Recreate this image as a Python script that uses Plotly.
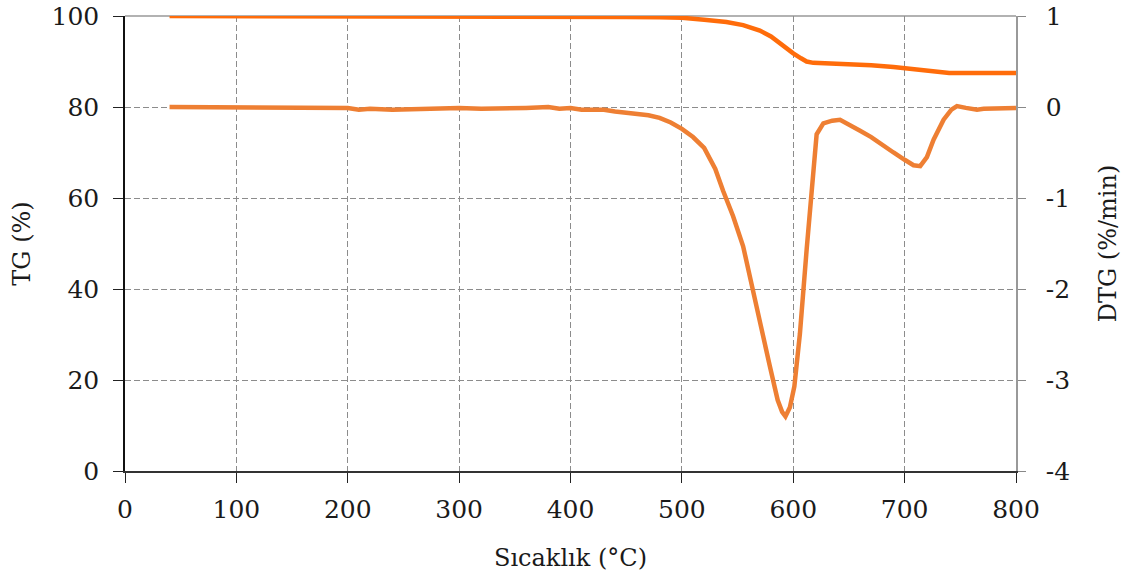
import plotly.graph_objects as go

# TG curve (left axis, %)
tg_temp = [40, 100, 200, 300, 400, 450, 480, 500, 520, 540, 555, 570, 580, 590, 600,
           607, 612, 618, 630, 650, 670, 690, 700, 710, 720, 730, 740, 760, 800]
tg_val = [100, 100, 100, 100, 99.9, 99.8, 99.7, 99.6, 99.2, 98.7, 98.0, 96.8, 95.5, 93.6, 91.8,
          90.7, 90.0, 89.7, 89.6, 89.5, 89.2, 88.8, 88.5, 88.2, 87.9, 87.6, 87.5, 87.5, 87.5]

# DTG curve (right axis, %/min)
dtg_temp = [40, 60, 80, 100, 120, 130, 140, 160, 180, 200, 210, 220, 240, 260, 280, 300,
            320, 340, 360, 380, 390, 400, 410, 420, 430, 440, 450, 460, 470, 480, 490, 500,
            510, 520, 530, 537, 546, 555, 563, 570, 579, 586, 590, 593, 597, 601, 606, 612,
            618, 621, 627, 635, 642, 650, 660, 670, 680, 690, 700, 708, 714, 720, 726, 735,
            742, 747, 755, 765, 771, 780, 790, 800]
dtg_val = [0.0, 0.0, 0.0, 0.0, 0.0, -0.01, 0.0, -0.01, 0.0, -0.01, -0.03, -0.02, -0.03, -0.02,
           -0.01, -0.01, -0.02, -0.02, -0.01, 0.0, -0.02, -0.01, -0.03, -0.03, -0.03, -0.05,
           -0.06, -0.08, -0.09, -0.12, -0.17, -0.24, -0.33, -0.45, -0.68, -0.92, -1.20, -1.53,
           -1.97, -2.41, -2.85, -3.22, -3.35, -3.40, -3.30, -3.07, -2.49, -1.57, -0.66, -0.30,
           -0.18, -0.15, -0.14, -0.19, -0.26, -0.33, -0.42, -0.50, -0.58, -0.64, -0.65, -0.55,
           -0.36, -0.14, -0.03, 0.01, -0.01, -0.03, -0.02, -0.02, -0.01, -0.01]

x_ticks = [0, 100, 200, 300, 400, 500, 600, 700, 800]
tg_ticks = [0, 20, 40, 60, 80, 100]
dtg_ticks = [-4, -3, -2, -1, 0, 1]
dtg_ticktext = ["-4", "-3", "-2", "-1", "0", "1"]

FONT = "DejaVu Serif"
GRID = "#8c8c8c"
TICKFONT = dict(family=FONT, size=25, color="#1a1a1a")
TITLEFONT = dict(family=FONT, size=24, color="#1a1a1a")

fig = go.Figure()
fig.add_trace(go.Scatter(x=tg_temp, y=tg_val, mode="lines", name="TG",
                         line=dict(color="#FF6C0A", width=4.5), yaxis="y"))
fig.add_trace(go.Scatter(x=dtg_temp, y=dtg_val, mode="lines", name="DTG",
                         line=dict(color="#EE7F33", width=4.5), yaxis="y2"))

fig.update_layout(
    width=1130, height=583,
    margin=dict(l=125, r=114, t=16, b=112),
    paper_bgcolor="white", plot_bgcolor="white",
    showlegend=False,
    font=dict(family=FONT, size=23, color="#1a1a1a"),
    xaxis=dict(
        range=[0, 800], tickvals=x_ticks, ticks="outside", ticklen=10, tickcolor="#222",
        showline=True, linecolor="#333", linewidth=1.5,
        showgrid=True, gridcolor=GRID, griddash="6px,3px", gridwidth=1,
        zeroline=False, automargin=False, tickfont=TICKFONT,
        title=dict(text="Sıcaklık (°C)", standoff=26, font=TITLEFONT),
        ticklabelstandoff=5,
    ),
    yaxis=dict(
        range=[0, 100], tickvals=tg_ticks, ticks="outside", ticklen=10, tickcolor="#222",
        showline=True, linecolor="#111", linewidth=1.5,
        showgrid=True, gridcolor=GRID, griddash="6px,3px", gridwidth=1,
        zeroline=False, automargin=False, tickfont=TICKFONT,
        title=dict(text="TG (%)", standoff=14, font=TITLEFONT),
        ticklabelstandoff=9,
    ),
    yaxis2=dict(
        range=[-4, 1], tickvals=dtg_ticks, ticktext=dtg_ticktext, overlaying="y", side="right",
        ticks="outside", ticklen=8, tickcolor="#888",
        showline=True, linecolor="#999", linewidth=1.5,
        showgrid=False, zeroline=False, automargin=False, tickfont=TICKFONT,
        title=dict(text="DTG (%/min)", standoff=30, font=TITLEFONT),
        ticklabelstandoff=15,
    ),
    shapes=[dict(type="line", xref="paper", yref="paper", x0=0, x1=1, y0=1, y1=1,
                 line=dict(color="#999", width=1.5), layer="below")],
)

fig.write_html("out.html", config={"displayModeBar": False},
               post_script="document.body.style.margin='0';document.body.style.overflow='hidden';")
